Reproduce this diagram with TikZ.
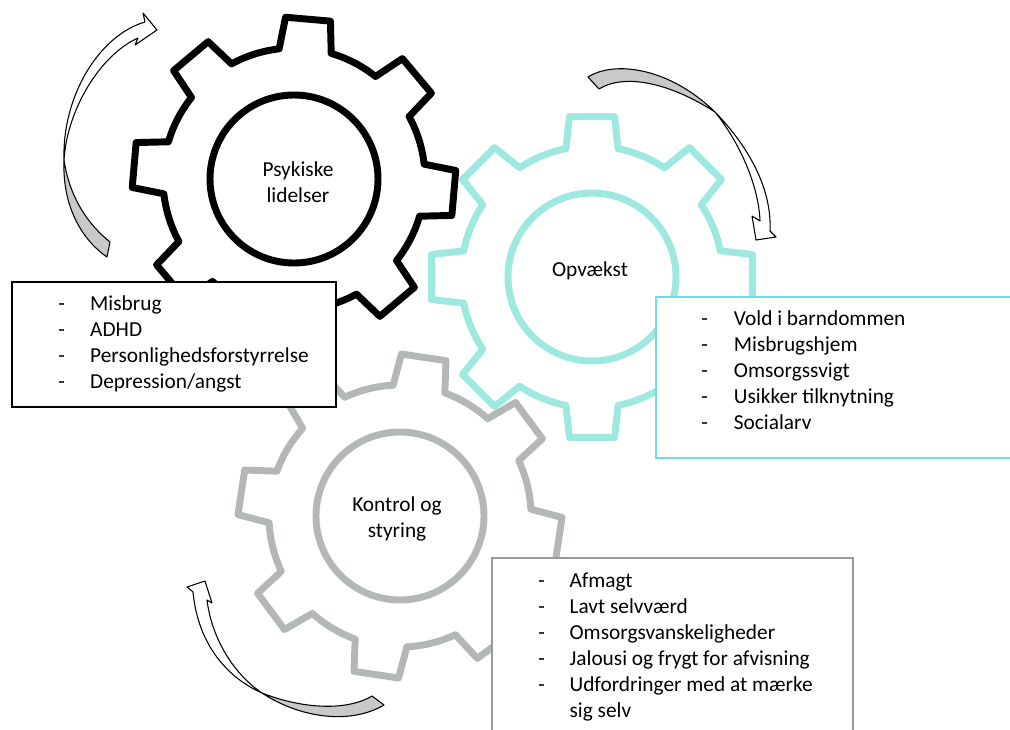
\documentclass[tikz,border=0pt]{standalone}
\usepackage{fontspec}
\setmainfont{Carlito}
\definecolor{tealgear}{HTML}{9DE9DF}
\definecolor{graygear}{HTML}{B4B7B7}
\definecolor{tealbox}{HTML}{70DDE6}
\definecolor{graybox}{HTML}{9A9A9A}
\definecolor{arrowgray}{HTML}{C9C9C9}
\newcommand{\drawgear}[4]{%
  \begin{scope}[shift={(#2,#3)}]
    \draw[#1] ({#4-90-11.5}:131) \foreach \k in {0,...,7}{
      -- ({#4-90+45*\k-8}:162) -- ({#4-90+45*\k+8}:162)
      -- ({#4-90+45*\k+11.5}:131)
      arc[start angle={#4-90+45*\k+11.5}, end angle={#4-90+45*\k+45-11.5}, radius=131]} -- cycle;
    \draw[#1] (0,0) circle[radius=84];
  \end{scope}}
\begin{document}
\begin{tikzpicture}[x=0.75pt,y=-0.75pt,
  gearline/.style={line width=5.2pt, line join=round},
  boxline/.style={line width=1pt},
  arrowline/.style={draw=black, line width=0.8pt, line join=round},
  lbl/.style={font=\fontsize{16}{20}\selectfont, align=center, inner sep=0pt},
  listtxt/.style={font=\fontsize{16}{19.5}\selectfont, inner sep=0pt, anchor=base west}]
\useasboundingbox (0,0) rectangle (1010,729);
% gears
\drawgear{gearline, draw=black}{294}{179}{5}
\drawgear{gearline, draw=graygear}{400}{516}{8.5}
\drawgear{gearline, draw=tealgear}{592}{277}{0}
% centre labels
\node[lbl] (psyk) at (298,182) {Psykiske\\lidelser};
\node[lbl] (opv) at (590,271) {Opvækst};
\node[lbl] (kontrol) at (397,519) {Kontrol og\\styring};
% boxes
\filldraw[boxline, draw=black, fill=white] (12,282) rectangle (336,407);
\fill[white] (656,297) rectangle (1012,458);
\draw[boxline, draw=tealbox] (1012,297) -- (656,297) -- (656,458) -- (1012,458);
\fill[white] (492,558) rectangle (853,740);
\draw[boxline, draw=graybox] (492,740) -- (492,558) -- (853,558) -- (853,740);
\node[listtxt] (list1) at (58,310) {\begin{tabular}[t]{@{}p{24pt}@{}l@{}}
-&Misbrug\\ -&ADHD\\ -&Personlighedsforstyrrelse\\ -&Depression/angst\end{tabular}};
\node[listtxt] (list2) at (701,325) {\begin{tabular}[t]{@{}p{24.5pt}@{}l@{}}
-&Vold i barndommen\\ -&Misbrugshjem\\ -&Omsorgssvigt\\ -&Usikker tilknytning\\ -&Socialarv\end{tabular}};
\node[listtxt] (list3) at (538,587) {\begin{tabular}[t]{@{}p{23.5pt}@{}l@{}}
-&Afmagt\\ -&Lavt selvværd\\ -&Omsorgsvanskeligheder\\ -&Jalousi og frygt for afvisning\\ -&Udfordringer med at mærke\\ &sig selv\end{tabular}};
% arrow 1 (left of black gear)
\filldraw[arrowline, fill=arrowgray] (64,160) .. controls (62,210) and (85,242) .. (107,257) -- (110,242) .. controls (90,226) and (70,200) .. (64,160) -- cycle;
\filldraw[arrowline, fill=white] (64,160) .. controls (62,95) and (100,35) .. (145,22) -- (143,13) -- (157,30) -- (135,45) -- (138,38) .. controls (100,55) and (67,110) .. (64,160) -- cycle;
% arrow 2 (upper right of teal gear)
\filldraw[arrowline, fill=arrowgray] (588,77) .. controls (615,60) and (670,68) .. (715,112) .. controls (670,83) and (625,73) .. (599,89) -- cycle;
\filldraw[arrowline, fill=white] (715,112) .. controls (750,148) and (772,190) .. (770,231) -- (776,237) -- (756,240) -- (752,216) -- (760,221) .. controls (759,190) and (743,147) .. (715,112) -- cycle;
% arrow 3 (lower left of gray gear)
\filldraw[arrowline, fill=arrowgray] (262,693) .. controls (300,718) and (350,725) .. (384,705) -- (372,696) .. controls (345,712) and (300,708) .. (262,693) -- cycle;
\filldraw[arrowline, fill=white] (262,693) .. controls (228,678) and (198,645) .. (193,592) -- (187,587) -- (205,581) -- (212,603) -- (207,600) .. controls (212,640) and (235,675) .. (262,693) -- cycle;
\end{tikzpicture}
\end{document}
